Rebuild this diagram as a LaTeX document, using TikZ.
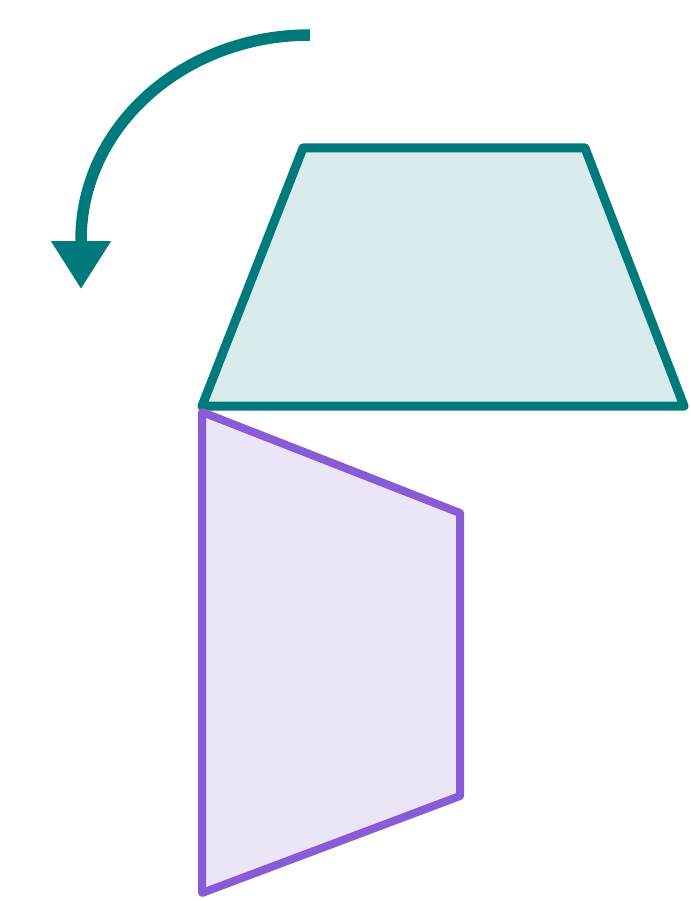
\documentclass[tikz,border=0pt]{standalone}
\usetikzlibrary{arrows.meta}

\definecolor{tealline}{HTML}{007A7A}
\definecolor{tealfill}{HTML}{D9EBEC}
\definecolor{purpline}{HTML}{885CD6}
\definecolor{purpfill}{HTML}{ECE5F8}

\tikzset{
    tealshape/.style={draw=tealline, fill=tealfill, line width=9pt, line join=round},
    purpshape/.style={draw=purpline, fill=purpfill, line width=8pt, line join=round},
    turnarrow/.style={draw=tealline, line width=11.5pt, -{Triangle[width=57pt, length=48pt]}}
}

\begin{document}
\begin{tikzpicture}[x=1pt, y=-1pt]
    \useasboundingbox (0,0) rectangle (690,901);

    % top trapezoid
    \coordinate (T1) at (303,148);
    \coordinate (T2) at (585,148);
    \coordinate (T3) at (684,406);
    \coordinate (T4) at (202,406);
    \draw[tealshape] (T1) -- (T2) -- (T3) -- (T4) -- cycle;

    %-----

    % lower trapezoid
    \coordinate (P1) at (202,412);
    \coordinate (P2) at (460,513);
    \coordinate (P3) at (460,796);
    \coordinate (P4) at (202,893);
    \draw[purpshape] (P1) -- (P2) -- (P3) -- (P4) -- cycle;

    %-----

    % rotation arrow
    \coordinate (S) at (310,35);
    \coordinate (Tip) at (81,289);
    \draw[turnarrow] (S) arc[start angle=-90, end angle=-180, x radius=229, y radius=205] -- (Tip);
\end{tikzpicture}
\end{document}
